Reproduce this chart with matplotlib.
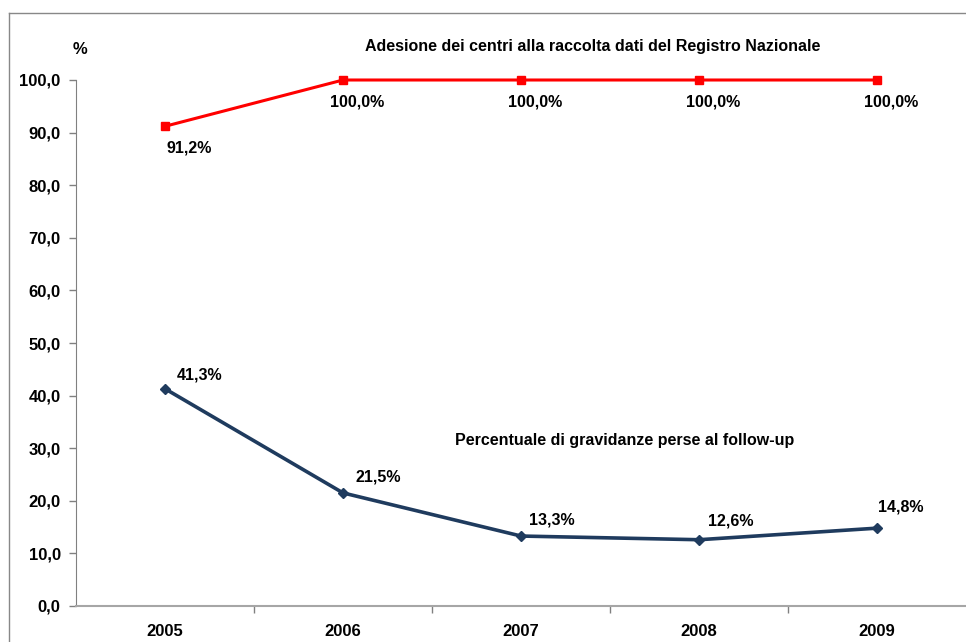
import matplotlib
matplotlib.use("Agg")
import matplotlib.pyplot as plt
from matplotlib.lines import Line2D
import numpy as np

years = ["2005", "2006", "2007", "2008", "2009"]
adesione = [91.2, 100.0, 100.0, 100.0, 100.0]
perse = [41.3, 21.5, 13.3, 12.6, 14.8]
y_ticks = [0, 10, 20, 30, 40, 50, 60, 70, 80, 90, 100]

plt.rcParams['font.family'] = ['Liberation Sans', 'DejaVu Sans']
plt.rcParams['font.weight'] = 'bold'

fig = plt.figure(figsize=(9.66, 6.42), dpi=100)
W, H = 966, 642
ax = fig.add_axes([76 / W, 1 - 606 / H, 890 / W, (606 - 80) / H])

x = np.arange(len(years))
red = "#FF0000"
navy = "#1F3B5E"
ax.plot(x, adesione, color=red, lw=2.2, marker='s', ms=6, mfc=red, mec=red, clip_on=False, zorder=3)
ax.plot(x, perse, color=navy, lw=2.6, marker='D', ms=5.5, mfc=navy, mec=navy, clip_on=False, zorder=3)

ax.set_xlim(-0.5, 4.5)
ax.set_ylim(0, 100)
ax.set_yticks(y_ticks)
ax.set_yticklabels([f"{v:.1f}".replace('.', ',') for v in y_ticks], fontsize=12, fontweight='bold')
ax.set_xticks(x)
ax.set_xticklabels(years, fontsize=12, fontweight='bold')
ax.tick_params(axis='x', which='major', length=0, pad=13)
ax.set_xticks(np.arange(-0.5, 4.6, 1.0)[1:-1], minor=True)
ax.tick_params(axis='x', which='minor', length=5, color="#808080", width=1)
ax.tick_params(axis='y', length=5, color="#808080", width=1, pad=6)

for s in ['top', 'right']:
    ax.spines[s].set_visible(False)
ax.spines['left'].set_color("#808080")
ax.spines['bottom'].set_color("#A6A6A6")
ax.spines['bottom'].set_linewidth(1.5)

for i, v in enumerate(adesione):
    dx = 24 if i == 0 else 14
    ax.annotate(f"{v:.1f}%".replace('.', ','), (i, v), xytext=(dx, -22),
                textcoords='offset pixels', ha='center', va='center',
                fontsize=11.5, fontweight='bold')

offs = [(35, 14), (35, 16), (31, 16), (32, 19), (24, 21)]
for i, v in enumerate(perse):
    ax.annotate(f"{v:.1f}%".replace('.', ','), (i, v), xytext=offs[i],
                textcoords='offset pixels', ha='center', va='center',
                fontsize=11.5, fontweight='bold')

fig.text(593 / W, 1 - 46 / H, "Adesione dei centri alla raccolta dati del Registro Nazionale",
         ha='center', va='center', fontsize=11.5, fontweight='bold')
fig.text(625 / W, 1 - 440 / H, "Percentuale di gravidanze perse al follow-up",
         ha='center', va='center', fontsize=11.5, fontweight='bold')
fig.text(80 / W, 1 - 50 / H, "%", ha='center', va='center', fontsize=12, fontweight='bold')

# outer chart frame (clipped at right/bottom)
fig.add_artist(Line2D([8.5 / W, 8.5 / W], [0, 1 - 12.5 / H], transform=fig.transFigure, color="#888888", lw=1))
fig.add_artist(Line2D([8.5 / W, 1], [1 - 12.5 / H, 1 - 12.5 / H], transform=fig.transFigure, color="#888888", lw=1))

fig.savefig("out.png", dpi=100)
